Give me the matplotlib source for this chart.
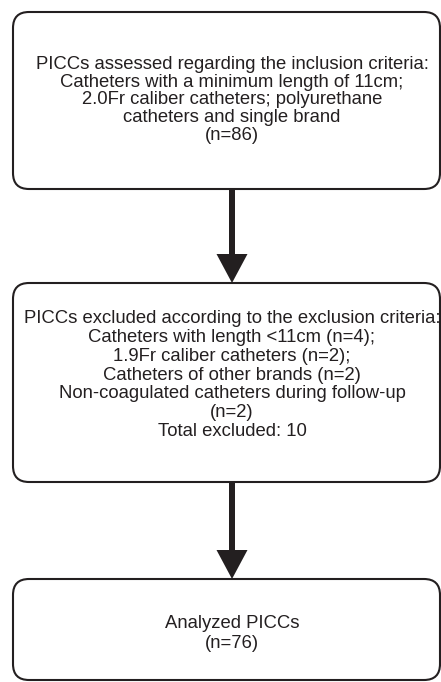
import matplotlib.pyplot as plt
from matplotlib.patches import FancyBboxPatch, FancyArrow

plt.rcParams['font.family'] = ['Liberation Sans', 'DejaVu Sans']

# text of the three boxes
box1_lines = ["PICCs assessed regarding the inclusion criteria:",
              "Catheters with a minimum length of 11cm;",
              "2.0Fr caliber catheters; polyurethane",
              "catheters and single brand",
              "(n=86)"]
box2_lines = ["PICCs excluded according to the exclusion criteria:",
              "Catheters with length <11cm (n=4);",
              "1.9Fr caliber catheters (n=2);",
              "Catheters of other brands (n=2)",
              "Non-coagulated catheters during follow-up",
              "(n=2)",
              "Total excluded: 10"]
box3_lines = ["Analyzed PICCs", "(n=76)"]

# box geometry in pixels: (left, top, right, bottom)
boxes = [(13, 12, 440, 189), (13, 283, 440, 482), (13, 579, 440, 680)]
texts = [box1_lines, box2_lines, box3_lines]
text_centers = [98, 373, 632]
line_steps = [17.6, 18.8, 20.0]

fig = plt.figure(figsize=(4.41, 6.82), dpi=100)
ax = fig.add_axes([0, 0, 1, 1])
ax.set_xlim(0, 441)
ax.set_ylim(682, 0)
ax.axis('off')

ink = '#231f20'
cx = 232

for (l, t, r, b), lines, yc, step in zip(boxes, texts, text_centers, line_steps):
    box = FancyBboxPatch((l, t), r - l, b - t,
                         boxstyle="round,pad=0,rounding_size=16",
                         fc='white', ec=ink, lw=1.5)
    ax.add_patch(box)
    n = len(lines)
    for i, s in enumerate(lines):
        y = yc + (i - (n - 1) / 2) * step
        ax.text(cx, y, s, ha='center', va='center_baseline',
                fontsize=13.3, color=ink)

# arrows between boxes
for i in range(2):
    y0 = boxes[i][3]
    y1 = boxes[i + 1][1]
    ax.add_patch(FancyArrow(cx, y0, 0, y1 - y0, width=6, head_width=31,
                            head_length=29, length_includes_head=True,
                            fc=ink, ec='none'))

fig.savefig('out.png', dpi=100)
